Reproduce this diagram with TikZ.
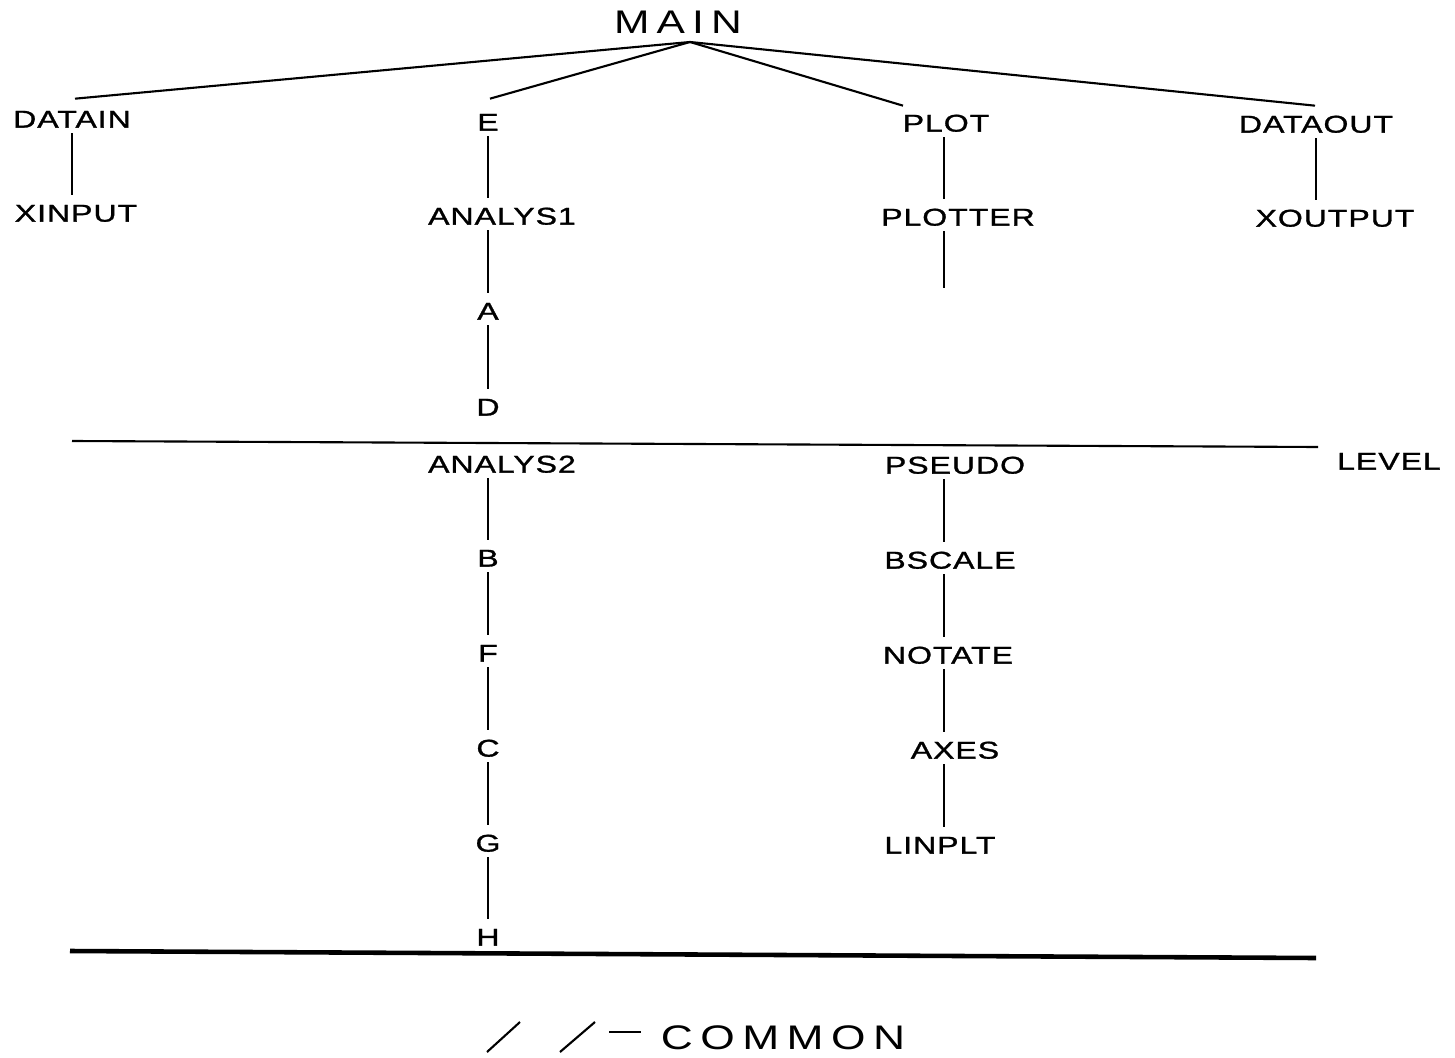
\documentclass[tikz,border=0pt]{standalone}
\usepackage{fontspec}
\usepackage{tikz}
\usetikzlibrary{calc}

\newfontfamily\lblfont[FakeStretch=1.32,LetterSpace=4,FakeBold=1.2]{Liberation Sans}
\newfontfamily\ttlfont[FakeStretch=1.3,LetterSpace=22]{Liberation Sans}

\tikzset{
  lbl/.style={font=\lblfont\fontsize{6.9}{7}\selectfont, inner sep=0pt,
    text height=4.9pt, text depth=0pt},
  big/.style={font=\ttlfont\fontsize{#1}{12}\selectfont, inner sep=0pt},
  link/.style={line width=0.6pt, shorten <=1.4pt, shorten >=2.6pt},
  branch/.style={line width=0.6pt}
}

\begin{document}
\begin{tikzpicture}[x=0.01cm, y=-0.01cm]
			\useasboundingbox (0, 0) rectangle (1455, 1058);

			% top of the tree
			\node [big=9.3] (MAIN) at (678, 22) {MAIN};
			\coordinate (apex) at (690, 42);

			\node [lbl] (DATAIN) at (72, 119) {DATAIN};
			\node [lbl] (XINPUT) at (76, 213) {XINPUT};

			\node [lbl] (E) at (488, 122) {E};
			\node [lbl] (ANALYS1) at (502, 216) {ANALYS1};
			\node [lbl] (A) at (488, 311) {A};
			\node [lbl] (D) at (488, 407) {D};

			\node [lbl] (PLOT) at (946, 123) {PLOT};
			\node [lbl] (PLOTTER) at (958, 217) {PLOTTER};
			\coordinate (rspine) at (944, 0);
			\coordinate (plotend) at (944, 297);

			\node [lbl] (DATAOUT) at (1316, 124) {DATAOUT};
			\node [lbl] (XOUTPUT) at (1335, 218) {XOUTPUT};

			\draw [branch] ($(DATAIN.north) + (3, -11)$) -- (apex);
			\draw [branch] ($(E.north) + (2, -14)$) -- (apex);
			\draw [branch] ($(PLOT.north) + (-43, -8)$) -- (apex);
			\draw [branch] ($(DATAOUT.north) + (-1, -9)$) -- (apex);

			\draw [link] (DATAIN.south) -- (XINPUT.north -| DATAIN);
			\draw [link] (E.south) -- (ANALYS1.north -| E);
			\draw [link] (ANALYS1.south -| A) -- (A.north);
			\draw [link] (A.south) -- (D.north);
			\draw [link] (PLOT.south -| rspine) -- (PLOTTER.north -| rspine);
			\draw [link] (PLOTTER.south -| rspine) -- (plotend);
			\draw [link] (DATAOUT.south) -- (XOUTPUT.north -| DATAOUT);

			% level line
			\draw [line width=0.6pt] (72, 441) -- (1318, 447);
			\node [lbl] (LEVEL) at (1389, 461) {LEVEL};

			% lower part
			\node [lbl] (ANALYS2) at (502, 464) {ANALYS2};
			\node [lbl] (B) at (488, 558) {B};
			\node [lbl] (F) at (488, 653) {F};
			\node [lbl] (C) at (488, 748) {C};
			\node [lbl] (G) at (488, 843) {G};
			\node [lbl] (H) at (488, 937) {H};

			\node [lbl] (PSEUDO) at (955, 465) {PSEUDO};
			\node [lbl] (BSCALE) at (950, 560) {BSCALE};
			\node [lbl] (NOTATE) at (948, 655) {NOTATE};
			\node [lbl] (AXES) at (955, 750) {AXES};
			\node [lbl] (LINPLT) at (940, 845) {LINPLT};

			\draw [link] (ANALYS2.south -| B) -- (B.north);
			\draw [link] (B.south) -- (F.north);
			\draw [link] (F.south) -- (C.north);
			\draw [link] (C.south) -- (G.north);
			\draw [link] (G.south) -- (H.north);

			\draw [link] (PSEUDO.south -| rspine) -- (BSCALE.north -| rspine);
			\draw [link] (BSCALE.south -| rspine) -- (NOTATE.north -| rspine);
			\draw [link] (NOTATE.south -| rspine) -- (AXES.north -| rspine);
			\draw [link] (AXES.south -| rspine) -- (LINPLT.north -| rspine);

			\draw [line width=1.3pt] (70, 951) -- (1316, 958);

			% legend
			\draw [line width=0.6pt] (487, 1052) -- (520, 1022);
			\draw [line width=0.6pt] (560, 1052) -- (595, 1022);
			\draw [line width=0.6pt] (609, 1032) -- (641, 1032);
			\node [big=9.7] (COMMON) at (783, 1038) {COMMON};
		\end{tikzpicture}
\end{document}
